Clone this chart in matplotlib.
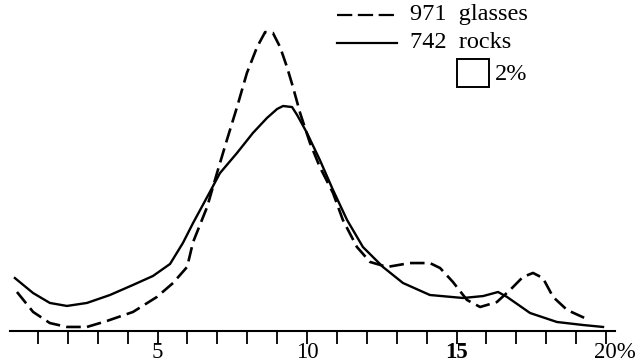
import matplotlib.pyplot as plt
from matplotlib.patches import Rectangle

plt.rcParams['font.family'] = ['Liberation Serif', 'DejaVu Serif']
plt.rcParams['lines.scale_dashes'] = False

# Values (x in %, y = frequency in % per unit)
glasses_x = [0.30, 0.84, 1.40, 1.97, 2.64, 3.31, 4.18, 4.98, 5.52, 5.99, 6.19, 6.66,
             6.99, 7.32, 7.66, 7.99, 8.33, 8.60, 8.86, 9.10, 9.33, 9.53, 9.77, 10.10,
             10.43, 10.87, 11.20, 11.67, 12.11, 12.68, 13.44, 14.11, 14.45, 14.88,
             15.35, 15.79, 16.35, 16.79, 17.22, 17.56, 17.89, 18.23, 18.70, 19.36]
glasses_y = [2.60, 1.27, 0.53, 0.27, 0.27, 0.67, 1.27, 2.27, 3.20, 4.27, 5.93, 8.27,
             10.53, 12.73, 14.93, 17.20, 18.93, 19.93, 19.87, 18.93, 17.60, 16.27, 14.53, 12.53,
             10.93, 9.20, 7.40, 5.60, 4.60, 4.27, 4.53, 4.53, 4.20, 3.27,
             2.07, 1.60, 1.93, 2.73, 3.60, 3.87, 3.53, 2.27, 1.40, 0.80]

rocks_x = [0.23, 0.84, 1.40, 1.97, 2.64, 3.41, 4.18, 4.85, 5.42, 5.85, 6.19, 6.66,
           7.09, 7.66, 8.19, 8.66, 9.00, 9.20, 9.50, 9.67, 10.00, 10.43, 10.87, 11.34,
           11.87, 12.54, 13.21, 14.11, 15.22, 15.89, 16.39, 16.69, 17.46, 18.36,
           19.23, 19.90]
rocks_y = [3.53, 2.53, 1.87, 1.67, 1.87, 2.40, 3.07, 3.67, 4.47, 5.87, 7.20, 8.93,
           10.53, 11.87, 13.20, 14.20, 14.80, 15.00, 14.93, 14.40, 13.20, 11.40, 9.40, 7.40,
           5.60, 4.27, 3.20, 2.40, 2.20, 2.33, 2.60, 2.27, 1.20, 0.60,
           0.40, 0.27]

tick_pos = list(range(1, 21))
tick_labels = {5: '5', 10: '10', 15: '15'}

fig = plt.figure(figsize=(6.35, 3.62), dpi=100)
ax = fig.add_axes([0, 31 / 362, 1, 331 / 362])

ax.plot(glasses_x, glasses_y, color='black', lw=1.9, dashes=(10.5, 4.5),
        solid_joinstyle='round', dash_joinstyle='round')
ax.plot(rocks_x, rocks_y, color='black', lw=1.7, solid_joinstyle='round')

ax.set_xlim(-8 / 29.9, 627 / 29.9)
ax.set_ylim(0, 331 / 15)

for s in ['top', 'right', 'left']:
    ax.spines[s].set_visible(False)
ax.spines['bottom'].set_bounds(0.07, 20.3)
ax.spines['bottom'].set_linewidth(1.5)
ax.set_yticks([])
ax.set_xticks(tick_pos)
ax.set_xticklabels(['' for t in tick_pos])
ax.tick_params(axis='x', direction='out', length=9, width=1.3, pad=2)

for t, lab in tick_labels.items():
    ax.text(t, -0.75, lab, ha='center', va='top', fontsize=16.5,
            fontweight='bold' if t == 15 else 'normal')
ax.text(19.6, -0.75, '20%', ha='left', va='top', fontsize=16.5)

# legend
ax.plot([10.99, 13.0], [21.07, 21.07], color='black', lw=1.6, dashes=(11, 4))
ax.text(13.45, 21.07, '971  glasses', ha='left', va='center', fontsize=17.5)
ax.plot([10.99, 13.0], [19.2, 19.2], color='black', lw=1.6)
ax.text(13.45, 19.2, '742  rocks', ha='left', va='center', fontsize=17.5)
ax.add_patch(Rectangle((15.02, 16.27), 1.08, 1.87, fill=False, lw=1.4,
                       edgecolor='black'))
ax.text(16.3, 17.1, '2%', ha='left', va='center', fontsize=17.5)

fig.savefig('out.png', dpi=100)
